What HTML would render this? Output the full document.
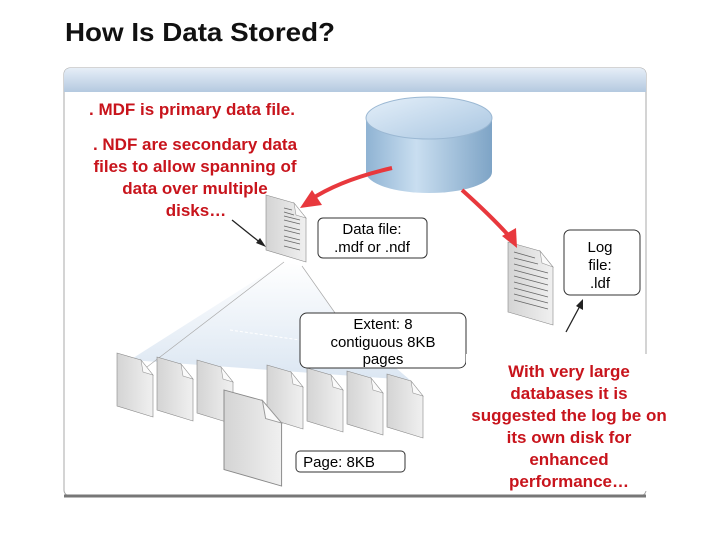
<!DOCTYPE html>
<html><head><style>
body{margin:0;background:#fff;width:720px;height:540px;overflow:hidden;font-family:"Liberation Sans",sans-serif}
</style></head><body>
<svg width="720" height="540" viewBox="0 0 720 540" xmlns="http://www.w3.org/2000/svg" font-family="Liberation Sans, sans-serif">
<defs>
<linearGradient id="hdr" x1="0" y1="0" x2="0" y2="1"><stop offset="0" stop-color="#e6eef7"/><stop offset="1" stop-color="#b4c9e0"/></linearGradient>
<linearGradient id="cyl" x1="0" y1="0" x2="1" y2="0"><stop offset="0" stop-color="#8fb3d3"/><stop offset="0.4" stop-color="#c9def0"/><stop offset="1" stop-color="#7ea4c6"/></linearGradient>
<linearGradient id="cyltop" x1="0" y1="0" x2="1" y2="1"><stop offset="0" stop-color="#e4eff9"/><stop offset="1" stop-color="#a9c6e1"/></linearGradient>
<linearGradient id="fan" x1="0" y1="0" x2="0" y2="1"><stop offset="0" stop-color="#fff"/><stop offset="1" stop-color="#dbe6f2"/></linearGradient>
<linearGradient id="pg" x1="0" y1="0" x2="1" y2="0"><stop offset="0" stop-color="#d4d4d4"/><stop offset="1" stop-color="#f0f0f0"/></linearGradient>
<g id="p"><polygon points="0,0 24,7 36,22 36,64 0,53" fill="url(#pg)" stroke="#888" stroke-width="0.6"/><polygon points="24,7 36,22 26,19" fill="#fafafa" stroke="#999" stroke-width="0.6"/></g>
</defs>
<text x="65" y="41" font-size="26" font-weight="bold" fill="#111" textLength="270" lengthAdjust="spacingAndGlyphs">How Is Data Stored?</text>
<rect x="64" y="68" width="582" height="428" rx="6" fill="#fff" stroke="#a8a8a8"/>
<path d="M64,92 V74 a6,6 0 0 1 6,-6 H640 a6,6 0 0 1 6,6 V92 Z" fill="url(#hdr)"/>
<line x1="64" y1="496" x2="646" y2="496" stroke="#777" stroke-width="3"/>
<!-- fan -->
<polygon points="284,262 302,266 340,320 410,380 130,360" fill="url(#fan)"/>
<line x1="284" y1="262" x2="130" y2="380" stroke="#aaa" stroke-width="0.7"/>
<line x1="302" y1="266" x2="340" y2="320" stroke="#aaa" stroke-width="0.7"/>
<line x1="230" y1="330" x2="300" y2="340" stroke="#fff" stroke-dasharray="3,2"/>
<!-- pages -->
<use href="#p" x="117" y="353"/>
<use href="#p" x="157" y="357"/>
<use href="#p" x="197" y="360"/>
<use href="#p" x="267" y="365"/>
<use href="#p" x="307" y="368"/>
<use href="#p" x="347" y="371"/>
<use href="#p" x="387" y="374"/>
<g transform="translate(224,390) scale(1.6,1.5)"><use href="#p"/></g>
<!-- cylinder -->
<path d="M366,118 V172 A63,21 0 0 0 492,172 V118 Z" fill="url(#cyl)"/>
<ellipse cx="429" cy="118" rx="63" ry="21" fill="url(#cyltop)" stroke="#9bb8d3"/>
<!-- data doc -->
<polygon points="266,195 294,203 306,218 306,262 266,250" fill="url(#pg)" stroke="#888" stroke-width="0.6"/>
<polygon points="294,203 306,218 296,215" fill="#fafafa" stroke="#999" stroke-width="0.6"/>
<g stroke="#666" stroke-width="0.8"><line x1="284" y1="208" x2="292" y2="210"/><line x1="284" y1="212" x2="294" y2="215"/><line x1="284" y1="216" x2="300" y2="220"/><line x1="284" y1="220" x2="300" y2="224"/><line x1="284" y1="226" x2="300" y2="230"/><line x1="284" y1="230" x2="300" y2="234"/><line x1="284" y1="236" x2="300" y2="240"/><line x1="284" y1="240" x2="300" y2="244"/><line x1="284" y1="246" x2="300" y2="250"/></g>
<!-- log doc -->
<polygon points="508,242 540,251 553,267 553,325 508,312" fill="url(#pg)" stroke="#888" stroke-width="0.6"/>
<polygon points="540,251 553,267 542,263" fill="#fafafa" stroke="#999" stroke-width="0.6"/>
<g stroke="#666" stroke-width="0.8"><line x1="514" y1="252" x2="535" y2="258"/><line x1="514" y1="258" x2="538" y2="264"/><line x1="514" y1="264" x2="548" y2="273"/><line x1="514" y1="270" x2="548" y2="279"/><line x1="514" y1="276" x2="548" y2="285"/><line x1="514" y1="282" x2="548" y2="291"/><line x1="514" y1="288" x2="548" y2="297"/><line x1="514" y1="294" x2="548" y2="303"/><line x1="514" y1="300" x2="548" y2="309"/></g>
<!-- red arrows -->
<path d="M392,168 Q340,180 310,200" fill="none" stroke="#e8383d" stroke-width="4"/>
<polygon points="300,208 312,190 322,205" fill="#e8383d"/>
<path d="M462,190 Q490,215 510,237" fill="none" stroke="#e8383d" stroke-width="4"/>
<polygon points="517,248 502,236 516,228" fill="#e8383d"/>
<!-- black arrows -->
<line x1="232" y1="220" x2="262" y2="244" stroke="#222" stroke-width="1.3"/>
<polygon points="266,247 256,243 260,238" fill="#222"/>
<line x1="566" y1="332" x2="581" y2="304" stroke="#222" stroke-width="1.3"/>
<polygon points="583,299 583,310 576,306" fill="#222"/>
<!-- label boxes -->
<g fill="#fff" stroke="#333" stroke-width="1">
<rect x="318" y="218" width="109" height="40" rx="5"/>
<rect x="564" y="230" width="76" height="65" rx="6"/>
<rect x="300" y="313" width="166" height="55" rx="7"/>
<rect x="296" y="451" width="109" height="21" rx="4"/>
</g>
<g font-size="15" fill="#000" text-anchor="middle">
<text x="372" y="234">Data file:</text><text x="372" y="252">.mdf or .ndf</text>
<text x="600" y="252">Log</text><text x="600" y="270">file:</text><text x="600" y="288">.ldf</text>
<text x="383" y="329">Extent: 8</text><text x="383" y="347">contiguous 8KB</text><text x="383" y="364">pages</text>
<text x="339" y="467">Page: 8KB</text>
</g>
<rect x="466" y="354" width="254" height="137" fill="#fff"/>
<g font-size="17" font-weight="bold" fill="#c8141c" text-anchor="middle">
<text x="192" y="115">. MDF is primary data file.</text>
<text x="195" y="150">. NDF are secondary data</text>
<text x="195" y="172">files to allow spanning of</text>
<text x="195" y="194">data over multiple</text>
<text x="196" y="216">disks…</text>
<text x="569" y="377">With very large</text>
<text x="569" y="399">databases it is</text>
<text x="569" y="421">suggested the log be on</text>
<text x="569" y="443">its own disk for</text>
<text x="569" y="465">enhanced</text>
<text x="569" y="487">performance…</text>
</g>
</svg>
</body></html>
